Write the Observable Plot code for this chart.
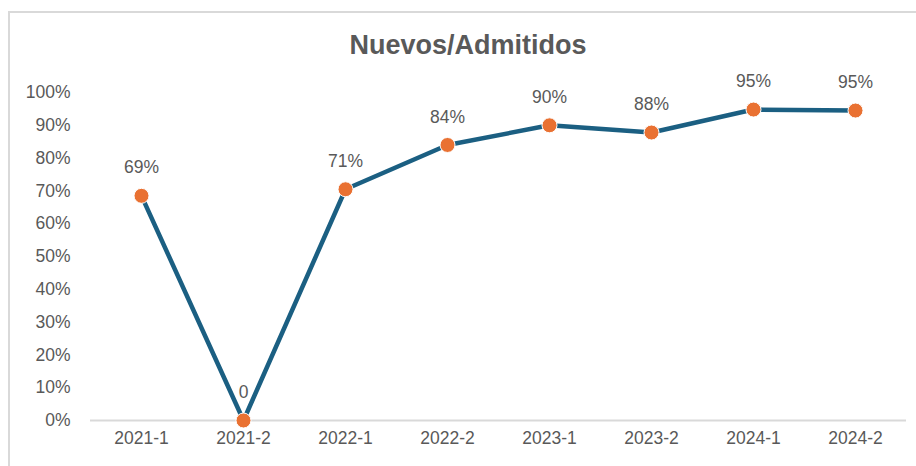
<!DOCTYPE html>
<html>
<head>
<meta charset="utf-8">
<script src="https://cdn.jsdelivr.net/npm/d3@7"></script>
<script src="https://cdn.jsdelivr.net/npm/@observablehq/plot@0.6"></script>
<style>
  html, body { margin: 0; padding: 0; background: #fff; overflow: hidden; }
  #wrap { position: relative; width: 916px; height: 466px; }
  #frame { position: absolute; left: 8px; top: 11px; width: 1000px; height: 1000px;
           border-left: 2px solid #d9d9d9; border-top: 2px solid #d9d9d9; box-sizing: border-box; }
  #title { position: absolute; left: 0; top: 30px; width: 936px; text-align: center;
           font: bold 27px "Liberation Sans", Arial, sans-serif; color: #595959; line-height: 30px; }
  #chart { position: absolute; left: 0; top: 0; }
</style>
</head>
<body>
<div id="wrap">
  <div id="frame"></div>
  <div id="chart"></div>
  <div id="title">Nuevos/Admitidos</div>
</div>
<script>
const periods = ["2021-1", "2021-2", "2022-1", "2022-2", "2023-1", "2023-2", "2024-1", "2024-2"];
const values = [0.685, 0, 0.705, 0.84, 0.90, 0.878, 0.948, 0.945];
const labels = ["69%", "0", "71%", "84%", "90%", "88%", "95%", "95%"];
const yTicks = [0, 0.1, 0.2, 0.3, 0.4, 0.5, 0.6, 0.7, 0.8, 0.9, 1.0];

const data = periods.map((p, i) => ({period: p, value: values[i], label: labels[i]}));

const textColor = "#595959";
const fontFamily = "'Liberation Sans', Arial, sans-serif";
const fs = 17.5;

const chart = Plot.plot({
  width: 916,
  height: 466,
  marginLeft: 90,
  marginRight: 10,
  marginTop: 92,
  marginBottom: 46,
  style: {fontFamily, fontSize: fs + "px", color: textColor, background: "transparent"},
  x: {type: "point", domain: periods, padding: 0.5, label: null},
  y: {domain: [0, 1], label: null},
  marks: [
    Plot.ruleY([0], {stroke: "#d9d9d9", strokeWidth: 2}),
    Plot.axisY({ticks: yTicks, tickFormat: d => Math.round(d * 100) + "%", tickSize: 0, tickPadding: 20, fontSize: fs, fill: textColor, label: null}),
    Plot.axisX({tickSize: 0, tickPadding: 11, fontSize: fs, fill: textColor, label: null}),
    Plot.line(data, {x: "period", y: "value", stroke: "#1b5f82", strokeWidth: 4.5, curve: "linear"}),
    Plot.dot(data, {x: "period", y: "value", r: 7.5, fill: "#e97132", stroke: "#fff", strokeWidth: 1}),
    Plot.text(data, {x: "period", y: "value", text: "label", dy: -28, fontSize: fs, fill: textColor})
  ]
});
document.getElementById("chart").appendChild(chart);
</script>
</body>
</html>
